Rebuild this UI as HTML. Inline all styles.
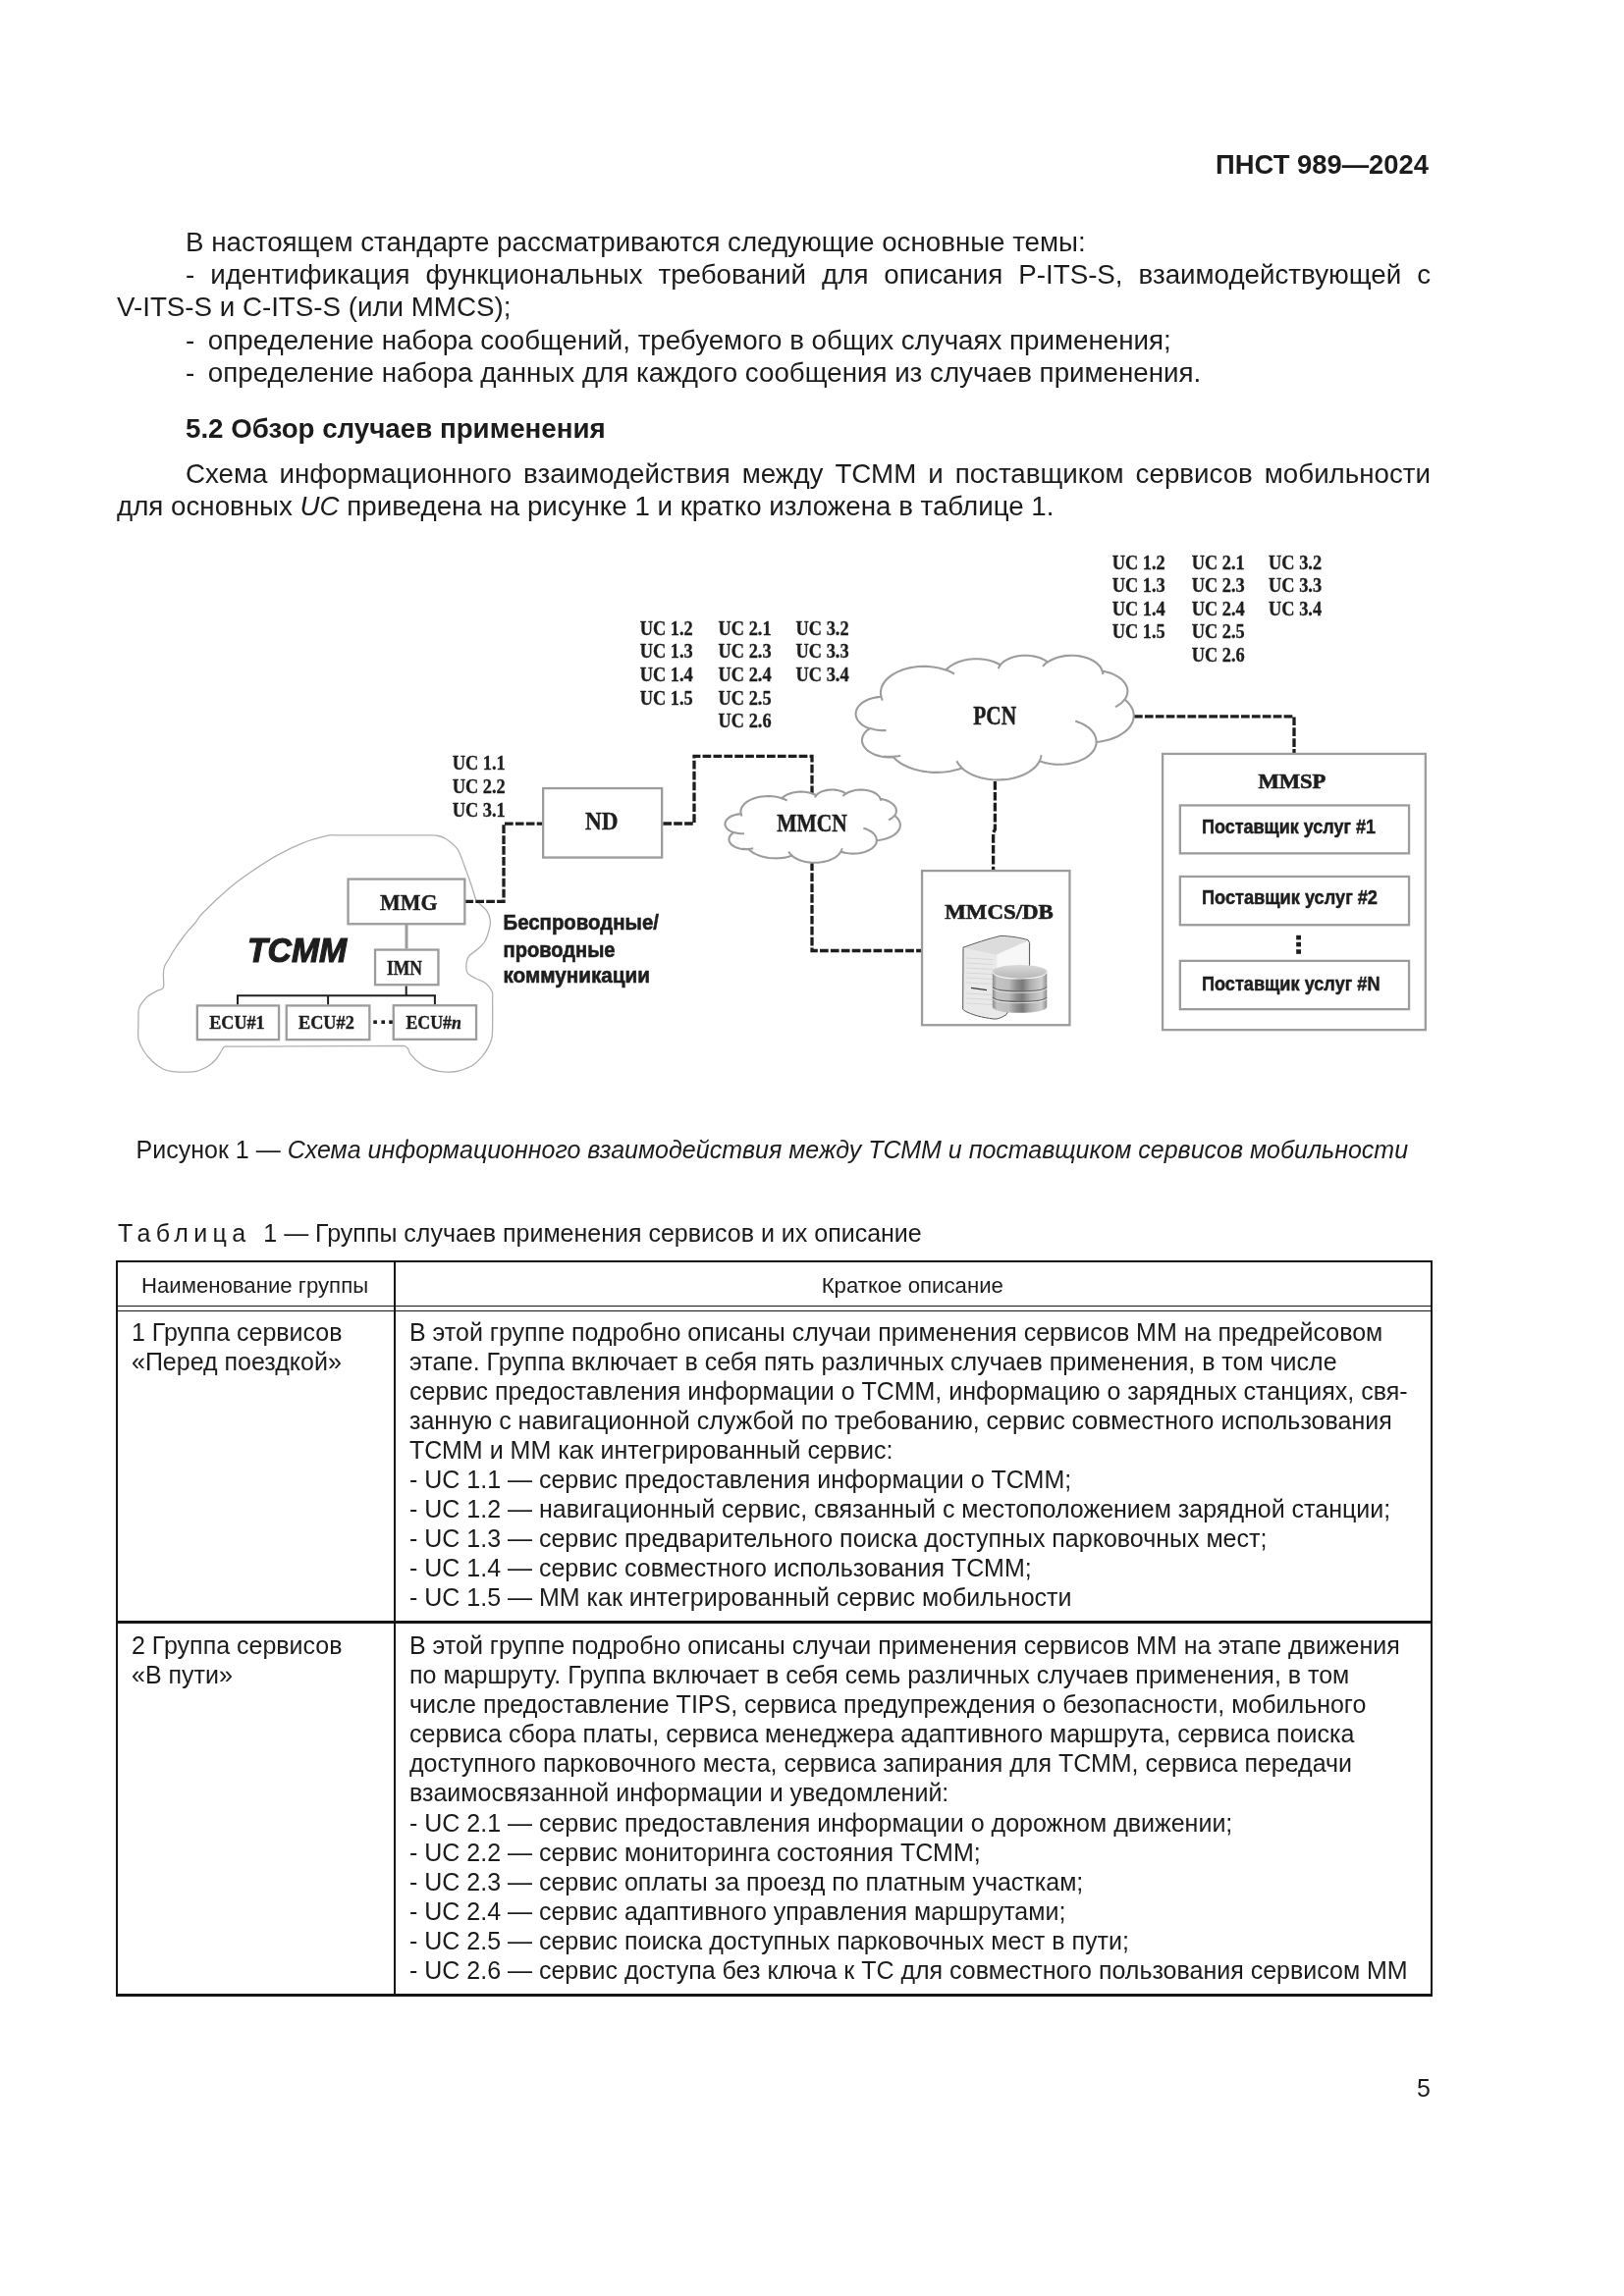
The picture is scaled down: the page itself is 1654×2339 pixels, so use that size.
<!DOCTYPE html>
<html><head><meta charset="utf-8"><title>ПНСТ 989—2024</title>
<style>
html,body{margin:0;padding:0;background:#fff;}
body{width:1654px;height:2339px;position:relative;overflow:hidden;font-family:'Liberation Sans', sans-serif;color:#1c1c1c;}
.t{position:absolute;line-height:1;white-space:nowrap;}
.r{position:absolute;}
svg.d{position:absolute;left:0;top:0;}
#wrap{position:absolute;left:0;top:0;width:1654px;height:2339px;will-change:transform;}
</style></head><body><div id="wrap">
<svg class="d" width="1654" height="2339" viewBox="0 0 1654 2339">
<defs>
<linearGradient id="cyl" x1="0" y1="0" x2="1" y2="0">
<stop offset="0" stop-color="#8a8a8a"/><stop offset="0.08" stop-color="#c4c4c4"/><stop offset="0.3" stop-color="#bdbdbd"/>
<stop offset="0.45" stop-color="#8c8c8c"/><stop offset="0.55" stop-color="#7a7a7a"/><stop offset="0.7" stop-color="#b0b0b0"/>
<stop offset="0.9" stop-color="#cfcfcf"/><stop offset="1" stop-color="#8f8f8f"/></linearGradient>
<linearGradient id="cyltop" x1="0" y1="0" x2="0" y2="1">
<stop offset="0" stop-color="#d9d9d9"/><stop offset="1" stop-color="#b8b8b8"/></linearGradient>
<linearGradient id="side" x1="0" y1="0" x2="1" y2="0">
<stop offset="0" stop-color="#eeeeee"/><stop offset="1" stop-color="#e2e2e2"/></linearGradient>
</defs>
<path d="M342.8,850.9 L435,850.9 C438.23,850.93 441.28,850.53 444.40,851.10 C447.52,851.67 450.12,851.97 453.70,854.30 C457.28,856.63 462.67,860.42 465.90,865.10 C469.13,869.78 470.70,876.17 473.10,882.40 C475.50,888.63 478.38,896.87 480.30,902.50 C482.22,908.13 483.40,913.32 484.60,916.20 C485.80,919.08 485.58,917.77 487.50,919.80 C489.42,921.83 494.12,925.28 496.10,928.40 C498.08,931.52 499.15,935.03 499.40,938.50 C499.65,941.97 498.62,945.62 497.60,949.20 C496.58,952.78 495.22,957.00 493.30,960.00 C491.38,963.00 488.75,964.80 486.10,967.20 C483.45,969.60 479.27,971.65 477.40,974.40 C475.53,977.15 475.07,980.82 474.90,983.70 C474.73,986.58 474.78,989.53 476.40,991.70 C478.02,993.87 481.55,995.03 484.60,996.70 C487.65,998.37 491.93,999.48 494.70,1001.70 C497.47,1003.92 500.05,1006.95 501.20,1010.00 C502.35,1013.05 501.53,1013.77 501.60,1020.00 C501.67,1026.23 501.72,1041.13 501.60,1047.40 C501.48,1053.67 501.58,1054.43 500.90,1057.60 C500.22,1060.77 499.08,1063.35 497.50,1066.40 C495.92,1069.45 494.10,1072.75 491.40,1075.90 C488.70,1079.05 485.25,1082.82 481.30,1085.30 C477.35,1087.78 471.65,1089.67 467.70,1090.80 C463.75,1091.93 460.98,1092.00 457.60,1092.10 C454.22,1092.20 451.35,1092.18 447.40,1091.40 C443.45,1090.62 437.85,1089.32 433.90,1087.40 C429.95,1085.48 426.42,1082.27 423.70,1079.90 C420.98,1077.53 418.95,1075.12 417.60,1073.20 C416.25,1071.28 416.62,1069.70 415.60,1068.40 C414.58,1067.10 413.85,1065.90 411.50,1065.40 L229.2,1066.2 C227.02,1066.75 227.47,1067.53 226.10,1069.50 C224.73,1071.47 223.18,1075.33 221.00,1078.00 C218.82,1080.67 215.83,1083.50 213.00,1085.50 C210.17,1087.50 206.73,1088.95 204.00,1090.00 C201.27,1091.05 200.93,1091.50 196.60,1091.80 C192.27,1092.10 183.10,1092.27 178.00,1091.80 C172.90,1091.33 169.83,1090.80 166.00,1089.00 C162.17,1087.20 158.33,1084.17 155.00,1081.00 C151.67,1077.83 148.33,1073.75 146.00,1070.00 C143.67,1066.25 141.85,1062.67 141.00,1058.50 C140.15,1054.33 140.87,1049.87 140.90,1045.00 C140.93,1040.13 140.75,1032.95 141.20,1029.30 C141.65,1025.65 142.07,1025.47 143.60,1023.10 C145.13,1020.73 147.73,1017.35 150.40,1015.10 C153.07,1012.85 157.23,1010.83 159.60,1009.60 C161.97,1008.37 163.42,1008.52 164.60,1007.70 C165.78,1006.88 166.40,1007.27 166.70,1004.70 C167.00,1002.13 166.25,995.70 166.40,992.30 C166.55,988.90 166.68,986.85 167.60,984.30 C168.52,981.75 170.15,979.97 171.90,977.00 C173.65,974.03 175.83,970.00 178.10,966.50 C180.37,963.00 183.13,959.18 185.50,956.00 C187.87,952.82 190.05,950.07 192.30,947.40 C194.55,944.73 196.58,942.95 199.00,940.00 C201.42,937.05 200.90,935.68 206.80,929.70 C212.70,923.72 226.52,910.83 234.40,904.10 C242.28,897.37 246.22,894.72 254.10,889.30 C261.98,883.88 272.67,876.68 281.70,871.60 C290.73,866.52 299.77,862.17 308.30,858.80 C316.83,855.43 327.15,852.72 332.90,851.40 C338.65,850.08 339.48,850.98 342.80,850.90 Z" fill="none" stroke="#b0b0b0" stroke-width="1.3"/>
<path d="M473.40,918.40 L513.00,918.40 L513.00,839.10 L552.30,839.10" fill="none" stroke="#1e1e1e" stroke-width="3.3" stroke-dasharray="8.7 2.2" stroke-linejoin="miter"/>
<path d="M675.30,839.00 L707.00,839.00 L707.00,770.30 L827.00,770.30 L827.00,808.00" fill="none" stroke="#1e1e1e" stroke-width="3.3" stroke-dasharray="8.7 2.2" stroke-linejoin="miter"/>
<path d="M827.00,878.40 L827.00,968.50 L938.60,968.50" fill="none" stroke="#1e1e1e" stroke-width="3.3" stroke-dasharray="8.7 2.2" stroke-linejoin="miter"/>
<path d="M1013.40,796.00 L1013.40,845.00 L1011.60,848.00 L1011.60,886.00" fill="none" stroke="#1e1e1e" stroke-width="3.3" stroke-dasharray="8.7 2.2" stroke-linejoin="miter"/>
<path d="M1155.00,729.90 L1318.00,729.90 L1318.00,767.00" fill="none" stroke="#1e1e1e" stroke-width="3.3" stroke-dasharray="8.7 2.2" stroke-linejoin="miter"/>
<rect x="354.55" y="895.55" width="118.80" height="45.70" fill="#fff" stroke="#9c9c9c" stroke-width="2.3"/>
<line x1="414" y1="942" x2="414" y2="966.5" stroke="#9c9c9c" stroke-width="3"/>
<rect x="382.05" y="967.55" width="64.40" height="35.70" fill="#fff" stroke="#9c9c9c" stroke-width="2.3"/>
<path d="M413.7,1004.4 V1014.3 M241,1014.3 H444 M242,1014.3 V1023.5 M334.1,1014.3 V1023.5 M442.9,1014.3 V1023.5" fill="none" stroke="#1e1e1e" stroke-width="2"/>
<rect x="200.85" y="1024.45" width="83.20" height="34.70" fill="#fff" stroke="#9c9c9c" stroke-width="2.3"/>
<rect x="291.75" y="1024.45" width="84.60" height="34.70" fill="#fff" stroke="#9c9c9c" stroke-width="2.3"/>
<rect x="400.75" y="1024.25" width="84.30" height="34.60" fill="#fff" stroke="#9c9c9c" stroke-width="2.3"/>
<rect x="380.3" y="1039.4" width="3.6" height="3.6" fill="#1e1e1e"/>
<rect x="388.4" y="1039.4" width="3.6" height="3.6" fill="#1e1e1e"/>
<rect x="396.2" y="1039.4" width="3.6" height="3.6" fill="#1e1e1e"/>
<text x="387.0" y="926.6" font-family="'Liberation Serif', serif" font-size="23" font-weight="bold" fill="#1e1e1e" textLength="58.5" lengthAdjust="spacingAndGlyphs" stroke="#1e1e1e" stroke-width="0.4">MMG</text>
<text x="394.0" y="992.7" font-family="'Liberation Serif', serif" font-size="20.6" font-weight="bold" fill="#1e1e1e" textLength="36" lengthAdjust="spacingAndGlyphs" stroke="#1e1e1e" stroke-width="0.4">IMN</text>
<text x="213.2" y="1048.3" font-family="'Liberation Serif', serif" font-size="18.6" font-weight="bold" fill="#1e1e1e" textLength="56.5" lengthAdjust="spacingAndGlyphs" stroke="#1e1e1e" stroke-width="0.4">ECU#1</text>
<text x="304.0" y="1048.3" font-family="'Liberation Serif', serif" font-size="18.6" font-weight="bold" fill="#1e1e1e" textLength="56.8" lengthAdjust="spacingAndGlyphs" stroke="#1e1e1e" stroke-width="0.4">ECU#2</text>
<text x="413.4" y="1048.3" font-family="'Liberation Serif', serif" font-size="18.6" font-weight="bold" fill="#1e1e1e" textLength="56.5" lengthAdjust="spacingAndGlyphs" stroke="#1e1e1e" stroke-width="0.4">ECU#<tspan font-style="italic">n</tspan></text>
<text x="252.0" y="980.2" font-family="'Liberation Sans', sans-serif" font-size="35.5" font-weight="bold" font-style="italic" fill="#1e1e1e" textLength="101" lengthAdjust="spacingAndGlyphs" stroke="#1e1e1e" stroke-width="1.2">ТСММ</text>
<text x="512.5" y="947" font-family="'Liberation Sans', sans-serif" font-size="22" font-weight="bold" fill="#1e1e1e" textLength="158.5" lengthAdjust="spacingAndGlyphs" stroke="#1e1e1e" stroke-width="0.6">Беспроводные/</text>
<text x="512.5" y="974.7" font-family="'Liberation Sans', sans-serif" font-size="22" font-weight="bold" fill="#1e1e1e" textLength="114" lengthAdjust="spacingAndGlyphs" stroke="#1e1e1e" stroke-width="0.6">проводные</text>
<text x="512.5" y="1000.5" font-family="'Liberation Sans', sans-serif" font-size="22" font-weight="bold" fill="#1e1e1e" textLength="149.5" lengthAdjust="spacingAndGlyphs" stroke="#1e1e1e" stroke-width="0.6">коммуникации</text>
<text x="460.8" y="784.1" font-family="'Liberation Serif', serif" font-size="20.3" font-weight="bold" fill="#1e1e1e" textLength="54" lengthAdjust="spacingAndGlyphs" stroke="#1e1e1e" stroke-width="0.35">UC 1.1</text>
<text x="460.8" y="808.3" font-family="'Liberation Serif', serif" font-size="20.3" font-weight="bold" fill="#1e1e1e" textLength="54" lengthAdjust="spacingAndGlyphs" stroke="#1e1e1e" stroke-width="0.35">UC 2.2</text>
<text x="460.8" y="831.6" font-family="'Liberation Serif', serif" font-size="20.3" font-weight="bold" fill="#1e1e1e" textLength="54" lengthAdjust="spacingAndGlyphs" stroke="#1e1e1e" stroke-width="0.35">UC 3.1</text>
<rect x="553.15" y="803.05" width="121.00" height="70.50" fill="#fff" stroke="#9c9c9c" stroke-width="2.3"/>
<text x="596.0" y="845.3" font-family="'Liberation Serif', serif" font-size="25" font-weight="bold" fill="#1e1e1e" textLength="33.5" lengthAdjust="spacingAndGlyphs" stroke="#1e1e1e" stroke-width="0.4">ND</text>
<text x="651.8" y="646.6" font-family="'Liberation Serif', serif" font-size="20.3" font-weight="bold" fill="#1e1e1e" textLength="54" lengthAdjust="spacingAndGlyphs" stroke="#1e1e1e" stroke-width="0.35">UC 1.2</text>
<text x="651.8" y="670.25" font-family="'Liberation Serif', serif" font-size="20.3" font-weight="bold" fill="#1e1e1e" textLength="54" lengthAdjust="spacingAndGlyphs" stroke="#1e1e1e" stroke-width="0.35">UC 1.3</text>
<text x="651.8" y="693.9" font-family="'Liberation Serif', serif" font-size="20.3" font-weight="bold" fill="#1e1e1e" textLength="54" lengthAdjust="spacingAndGlyphs" stroke="#1e1e1e" stroke-width="0.35">UC 1.4</text>
<text x="651.8" y="717.55" font-family="'Liberation Serif', serif" font-size="20.3" font-weight="bold" fill="#1e1e1e" textLength="54" lengthAdjust="spacingAndGlyphs" stroke="#1e1e1e" stroke-width="0.35">UC 1.5</text>
<text x="731.6" y="646.6" font-family="'Liberation Serif', serif" font-size="20.3" font-weight="bold" fill="#1e1e1e" textLength="54" lengthAdjust="spacingAndGlyphs" stroke="#1e1e1e" stroke-width="0.35">UC 2.1</text>
<text x="731.6" y="670.25" font-family="'Liberation Serif', serif" font-size="20.3" font-weight="bold" fill="#1e1e1e" textLength="54" lengthAdjust="spacingAndGlyphs" stroke="#1e1e1e" stroke-width="0.35">UC 2.3</text>
<text x="731.6" y="693.9" font-family="'Liberation Serif', serif" font-size="20.3" font-weight="bold" fill="#1e1e1e" textLength="54" lengthAdjust="spacingAndGlyphs" stroke="#1e1e1e" stroke-width="0.35">UC 2.4</text>
<text x="731.6" y="717.55" font-family="'Liberation Serif', serif" font-size="20.3" font-weight="bold" fill="#1e1e1e" textLength="54" lengthAdjust="spacingAndGlyphs" stroke="#1e1e1e" stroke-width="0.35">UC 2.5</text>
<text x="731.6" y="741.2" font-family="'Liberation Serif', serif" font-size="20.3" font-weight="bold" fill="#1e1e1e" textLength="54" lengthAdjust="spacingAndGlyphs" stroke="#1e1e1e" stroke-width="0.35">UC 2.6</text>
<text x="810.6" y="646.6" font-family="'Liberation Serif', serif" font-size="20.3" font-weight="bold" fill="#1e1e1e" textLength="54" lengthAdjust="spacingAndGlyphs" stroke="#1e1e1e" stroke-width="0.35">UC 3.2</text>
<text x="810.6" y="670.25" font-family="'Liberation Serif', serif" font-size="20.3" font-weight="bold" fill="#1e1e1e" textLength="54" lengthAdjust="spacingAndGlyphs" stroke="#1e1e1e" stroke-width="0.35">UC 3.3</text>
<text x="810.6" y="693.9" font-family="'Liberation Serif', serif" font-size="20.3" font-weight="bold" fill="#1e1e1e" textLength="54" lengthAdjust="spacingAndGlyphs" stroke="#1e1e1e" stroke-width="0.35">UC 3.4</text>
<text x="1132.8" y="579.6" font-family="'Liberation Serif', serif" font-size="20.3" font-weight="bold" fill="#1e1e1e" textLength="54" lengthAdjust="spacingAndGlyphs" stroke="#1e1e1e" stroke-width="0.35">UC 1.2</text>
<text x="1132.8" y="603.23" font-family="'Liberation Serif', serif" font-size="20.3" font-weight="bold" fill="#1e1e1e" textLength="54" lengthAdjust="spacingAndGlyphs" stroke="#1e1e1e" stroke-width="0.35">UC 1.3</text>
<text x="1132.8" y="626.86" font-family="'Liberation Serif', serif" font-size="20.3" font-weight="bold" fill="#1e1e1e" textLength="54" lengthAdjust="spacingAndGlyphs" stroke="#1e1e1e" stroke-width="0.35">UC 1.4</text>
<text x="1132.8" y="650.49" font-family="'Liberation Serif', serif" font-size="20.3" font-weight="bold" fill="#1e1e1e" textLength="54" lengthAdjust="spacingAndGlyphs" stroke="#1e1e1e" stroke-width="0.35">UC 1.5</text>
<text x="1213.7" y="579.6" font-family="'Liberation Serif', serif" font-size="20.3" font-weight="bold" fill="#1e1e1e" textLength="54" lengthAdjust="spacingAndGlyphs" stroke="#1e1e1e" stroke-width="0.35">UC 2.1</text>
<text x="1213.7" y="603.23" font-family="'Liberation Serif', serif" font-size="20.3" font-weight="bold" fill="#1e1e1e" textLength="54" lengthAdjust="spacingAndGlyphs" stroke="#1e1e1e" stroke-width="0.35">UC 2.3</text>
<text x="1213.7" y="626.86" font-family="'Liberation Serif', serif" font-size="20.3" font-weight="bold" fill="#1e1e1e" textLength="54" lengthAdjust="spacingAndGlyphs" stroke="#1e1e1e" stroke-width="0.35">UC 2.4</text>
<text x="1213.7" y="650.49" font-family="'Liberation Serif', serif" font-size="20.3" font-weight="bold" fill="#1e1e1e" textLength="54" lengthAdjust="spacingAndGlyphs" stroke="#1e1e1e" stroke-width="0.35">UC 2.5</text>
<text x="1213.7" y="674.12" font-family="'Liberation Serif', serif" font-size="20.3" font-weight="bold" fill="#1e1e1e" textLength="54" lengthAdjust="spacingAndGlyphs" stroke="#1e1e1e" stroke-width="0.35">UC 2.6</text>
<text x="1292.1" y="579.6" font-family="'Liberation Serif', serif" font-size="20.3" font-weight="bold" fill="#1e1e1e" textLength="54" lengthAdjust="spacingAndGlyphs" stroke="#1e1e1e" stroke-width="0.35">UC 3.2</text>
<text x="1292.1" y="603.23" font-family="'Liberation Serif', serif" font-size="20.3" font-weight="bold" fill="#1e1e1e" textLength="54" lengthAdjust="spacingAndGlyphs" stroke="#1e1e1e" stroke-width="0.35">UC 3.3</text>
<text x="1292.1" y="626.86" font-family="'Liberation Serif', serif" font-size="20.3" font-weight="bold" fill="#1e1e1e" textLength="54" lengthAdjust="spacingAndGlyphs" stroke="#1e1e1e" stroke-width="0.35">UC 3.4</text>
<path d="M754.69,828.98 L754.46,827.52 754.47,826.05 754.72,824.58 755.22,823.14 755.94,821.73 756.90,820.36 758.07,819.05 759.46,817.81 761.04,816.65 762.81,815.57 764.75,814.59 766.84,813.72 769.06,812.96 771.40,812.33 773.83,811.81 776.34,811.43 778.89,811.19 781.48,811.08 784.08,811.10 786.65,811.26 789.19,811.56 791.67,811.99 794.07,812.55 796.37,813.24 L797.23,812.40 798.20,811.60 799.27,810.85 800.45,810.15 801.71,809.50 803.06,808.91 804.49,808.38 805.98,807.92 807.54,807.52 809.14,807.19 810.78,806.94 812.46,806.75 814.15,806.64 815.85,806.61 817.56,806.65 819.25,806.76 820.92,806.95 822.56,807.21 824.16,807.55 825.71,807.95 827.20,808.42 828.63,808.95 829.97,809.54 831.23,810.19 L831.97,809.44 832.81,808.72 833.76,808.05 834.81,807.42 835.94,806.85 837.16,806.33 838.45,805.88 839.80,805.48 841.21,805.15 842.66,804.89 844.14,804.70 845.65,804.59 847.16,804.54 848.68,804.57 850.19,804.67 851.68,804.84 853.14,805.09 854.56,805.40 855.93,805.78 857.23,806.22 858.47,806.72 859.62,807.28 860.69,807.90 861.66,808.56 L862.95,807.78 864.36,807.07 865.88,806.44 867.50,805.90 869.20,805.44 870.97,805.07 872.80,804.80 874.66,804.63 876.54,804.56 878.43,804.59 880.30,804.72 882.14,804.95 883.94,805.27 885.67,805.69 887.33,806.20 888.90,806.79 890.35,807.47 891.70,808.22 892.90,809.04 893.97,809.92 894.89,810.85 895.65,811.83 896.24,812.84 896.66,813.88 L898.16,814.14 899.62,814.47 901.03,814.85 902.40,815.29 903.70,815.78 904.94,816.32 906.11,816.92 907.20,817.55 908.21,818.24 909.13,818.96 909.96,819.71 910.69,820.50 911.32,821.31 911.85,822.15 912.27,823.01 912.58,823.88 912.78,824.76 912.88,825.65 912.85,826.54 912.72,827.43 912.48,828.31 912.13,829.17 911.67,830.02 911.10,830.85 L912.49,831.98 913.71,833.17 914.74,834.41 915.57,835.70 916.21,837.03 916.63,838.38 916.85,839.75 916.86,841.13 916.66,842.50 916.25,843.85 915.63,845.18 914.82,846.48 913.81,847.72 912.61,848.92 911.23,850.05 909.68,851.11 907.98,852.09 906.14,852.98 904.16,853.78 902.07,854.48 899.88,855.07 897.61,855.55 895.28,855.92 892.89,856.18 L892.78,857.37 892.49,858.55 892.01,859.71 891.35,860.85 890.52,861.94 889.52,862.99 888.36,863.99 887.05,864.93 885.60,865.79 884.02,866.58 882.32,867.29 880.52,867.91 878.63,868.44 876.66,868.87 874.64,869.20 872.57,869.43 870.47,869.56 868.37,869.58 866.26,869.49 864.18,869.30 862.14,869.00 860.15,868.61 858.23,868.12 856.39,867.53 L855.52,868.93 854.41,870.28 853.09,871.57 851.56,872.78 849.84,873.90 847.94,874.92 845.88,875.84 843.67,876.65 841.35,877.33 838.92,877.89 836.40,878.31 833.83,878.60 831.23,878.75 828.61,878.76 826.00,878.63 823.42,878.36 820.90,877.95 818.46,877.42 816.11,876.75 813.89,875.96 811.81,875.06 809.89,874.05 808.14,872.94 806.58,871.74 L804.74,872.32 802.83,872.84 800.86,873.28 798.85,873.64 796.80,873.93 794.72,874.14 792.63,874.27 790.52,874.33 788.40,874.30 786.30,874.19 784.22,874.01 782.16,873.74 780.13,873.40 778.15,872.99 776.22,872.50 774.36,871.94 772.56,871.30 770.84,870.61 769.21,869.85 767.66,869.03 766.22,868.15 764.88,867.22 763.66,866.24 762.55,865.22 L760.72,865.29 758.90,865.25 757.08,865.11 755.31,864.87 753.59,864.52 751.93,864.08 750.37,863.55 748.91,862.92 747.57,862.22 746.36,861.45 745.30,860.61 744.39,859.71 743.65,858.77 743.09,857.78 742.70,856.77 742.50,855.75 742.48,854.71 742.65,853.69 743.00,852.67 743.53,851.68 744.23,850.73 745.11,849.82 746.14,848.97 747.32,848.18 L745.75,847.59 744.31,846.92 742.99,846.16 741.82,845.33 740.81,844.43 739.96,843.48 739.30,842.48 738.83,841.45 738.54,840.39 738.45,839.32 738.56,838.26 738.86,837.21 739.35,836.18 740.03,835.18 740.89,834.23 741.91,833.34 743.09,832.51 744.42,831.76 745.88,831.09 747.46,830.51 749.13,830.03 750.88,829.65 752.69,829.38 754.54,829.21 Z" fill="#fff" stroke="#9c9c9c" stroke-width="2.1"/>
<path d="M757.96,849.26 L757.05,849.29 756.15,849.29 755.24,849.26 754.34,849.21 753.44,849.14 752.55,849.03 751.67,848.90 750.81,848.75 749.95,848.57 749.12,848.37 748.30,848.14 747.51,847.89 M767.18,864.24 L766.32,864.42 765.45,864.58 764.56,864.71 763.67,864.81 762.76,864.89 761.85,864.94 760.94,864.96 760.03,864.96 759.12,864.94 758.21,864.88 757.30,864.80 756.41,864.70 M806.57,871.44 L806.23,871.14 805.89,870.83 805.57,870.52 805.26,870.21 804.96,869.89 804.68,869.57 804.41,869.24 804.15,868.91 803.91,868.58 803.68,868.25 803.46,867.91 803.26,867.57 M857.51,863.99 L857.47,864.27 857.41,864.54 857.35,864.82 857.28,865.09 857.20,865.37 857.11,865.64 857.02,865.92 856.91,866.19 856.80,866.46 856.68,866.73 856.55,867.00 856.41,867.27 M879.38,843.73 L881.35,844.33 883.20,845.04 884.93,845.85 886.52,846.74 887.95,847.71 889.22,848.76 890.30,849.86 891.20,851.02 891.91,852.23 892.41,853.46 892.71,854.72 892.79,855.98 M911.02,830.67 L910.67,831.11 910.29,831.54 909.88,831.96 909.45,832.37 908.99,832.77 908.50,833.17 907.98,833.55 907.44,833.92 906.88,834.27 906.29,834.62 905.68,834.95 905.04,835.27 M896.69,813.62 L896.74,813.80 896.79,813.98 896.83,814.16 896.87,814.34 896.91,814.52 896.94,814.70 896.96,814.88 896.98,815.06 896.99,815.24 897.00,815.43 897.00,815.61 897.00,815.79 M858.55,811.09 L858.75,810.84 858.96,810.59 859.18,810.35 859.41,810.11 859.65,809.87 859.90,809.64 860.16,809.41 860.43,809.19 860.71,808.96 861.00,808.74 861.30,808.53 861.61,808.32 M829.93,812.41 L830.01,812.20 830.11,812.00 830.20,811.79 830.31,811.59 830.42,811.39 830.54,811.19 830.67,810.99 830.80,810.79 830.95,810.60 831.09,810.40 831.25,810.21 831.41,810.02 M796.35,813.22 L796.83,813.38 797.31,813.55 797.78,813.73 798.25,813.91 798.70,814.09 799.16,814.28 799.60,814.48 800.04,814.68 800.47,814.89 800.89,815.10 801.30,815.31 801.71,815.53 M755.62,831.42 L755.52,831.22 755.42,831.02 755.33,830.82 755.24,830.62 755.15,830.41 755.07,830.21 755.00,830.01 754.92,829.80 754.86,829.60 754.80,829.39 754.74,829.19 754.69,828.98" fill="none" stroke="#9c9c9c" stroke-width="2.1"/>
<path d="M897.33,709.45 L896.97,706.95 896.98,704.43 897.39,701.94 898.17,699.47 899.32,697.06 900.84,694.73 902.70,692.49 904.90,690.37 907.42,688.38 910.22,686.54 913.30,684.87 916.61,683.39 920.14,682.09 923.85,681.00 927.71,680.13 931.69,679.48 935.75,679.06 939.85,678.87 943.97,678.91 948.06,679.19 952.09,679.70 956.03,680.44 959.84,681.39 963.48,682.56 L964.84,681.13 966.38,679.77 968.08,678.49 969.95,677.29 971.96,676.19 974.10,675.18 976.36,674.27 978.74,673.48 981.20,672.80 983.75,672.24 986.35,671.80 989.01,671.49 991.70,671.30 994.40,671.24 997.10,671.31 999.79,671.51 1002.44,671.83 1005.05,672.27 1007.59,672.84 1010.05,673.53 1012.41,674.33 1014.67,675.24 1016.80,676.25 1018.80,677.37 L1019.97,676.08 1021.31,674.85 1022.82,673.70 1024.48,672.63 1026.28,671.65 1028.21,670.77 1030.26,669.99 1032.40,669.32 1034.63,668.76 1036.94,668.31 1039.29,667.99 1041.68,667.79 1044.09,667.71 1046.50,667.76 1048.90,667.93 1051.26,668.23 1053.58,668.64 1055.83,669.18 1058.00,669.82 1060.07,670.58 1062.03,671.44 1063.86,672.40 1065.55,673.44 1067.10,674.58 L1069.14,673.24 1071.37,672.03 1073.79,670.96 1076.36,670.03 1079.06,669.24 1081.87,668.62 1084.77,668.16 1087.72,667.87 1090.71,667.74 1093.70,667.79 1096.67,668.01 1099.60,668.40 1102.45,668.96 1105.20,669.67 1107.83,670.54 1110.32,671.56 1112.63,672.71 1114.76,673.99 1116.68,675.39 1118.37,676.89 1119.83,678.48 1121.03,680.15 1121.97,681.88 1122.64,683.65 L1125.02,684.10 1127.33,684.66 1129.58,685.31 1131.74,686.06 1133.81,686.90 1135.78,687.83 1137.64,688.84 1139.37,689.93 1140.97,691.09 1142.43,692.32 1143.75,693.61 1144.91,694.96 1145.91,696.35 1146.74,697.78 1147.41,699.24 1147.91,700.73 1148.23,702.24 1148.37,703.76 1148.34,705.28 1148.13,706.79 1147.74,708.29 1147.18,709.77 1146.45,711.22 1145.56,712.64 L1147.77,714.56 1149.69,716.59 1151.33,718.72 1152.65,720.92 1153.66,723.19 1154.34,725.50 1154.68,727.84 1154.70,730.18 1154.38,732.52 1153.73,734.84 1152.75,737.11 1151.45,739.32 1149.85,741.45 1147.95,743.49 1145.76,745.42 1143.31,747.23 1140.61,748.90 1137.68,750.43 1134.54,751.79 1131.23,752.98 1127.75,753.99 1124.15,754.82 1120.44,755.45 1116.66,755.88 L1116.49,757.92 1116.02,759.94 1115.26,761.92 1114.21,763.86 1112.89,765.73 1111.31,767.52 1109.47,769.23 1107.39,770.82 1105.08,772.30 1102.58,773.65 1099.88,774.86 1097.02,775.92 1094.02,776.82 1090.90,777.56 1087.69,778.12 1084.41,778.51 1081.08,778.73 1077.74,778.76 1074.40,778.61 1071.10,778.29 1067.85,777.79 1064.70,777.11 1061.65,776.27 1058.74,775.27 L1057.35,777.66 1055.59,779.97 1053.49,782.16 1051.07,784.23 1048.33,786.14 1045.32,787.89 1042.05,789.46 1038.55,790.84 1034.85,792.00 1031.00,792.95 1027.01,793.68 1022.93,794.17 1018.80,794.42 1014.64,794.44 1010.50,794.22 1006.41,793.76 1002.41,793.07 998.53,792.15 994.81,791.01 991.29,789.66 987.98,788.12 984.93,786.40 982.16,784.50 979.69,782.46 L976.76,783.45 973.73,784.33 970.61,785.08 967.42,785.71 964.17,786.20 960.87,786.56 957.54,786.78 954.19,786.87 950.84,786.83 947.50,786.65 944.19,786.33 940.92,785.88 937.71,785.30 934.56,784.59 931.51,783.75 928.54,782.79 925.69,781.71 922.96,780.52 920.37,779.23 917.92,777.83 915.63,776.33 913.51,774.74 911.56,773.07 909.80,771.33 L906.91,771.45 904.01,771.38 901.13,771.14 898.32,770.72 895.58,770.13 892.96,769.38 890.48,768.47 888.16,767.40 886.04,766.21 884.12,764.88 882.43,763.45 881.00,761.91 879.82,760.30 878.92,758.62 878.31,756.90 877.98,755.15 877.96,753.38 878.22,751.63 878.78,749.90 879.62,748.21 880.74,746.58 882.13,745.03 883.76,743.58 885.64,742.23 L883.15,741.23 880.85,740.07 878.76,738.78 876.91,737.36 875.30,735.82 873.97,734.19 872.91,732.49 872.16,730.73 871.71,728.93 871.57,727.11 871.73,725.29 872.21,723.49 872.99,721.73 874.07,720.03 875.43,718.41 877.05,716.89 878.93,715.48 881.04,714.19 883.36,713.05 885.85,712.06 888.51,711.24 891.28,710.59 894.16,710.12 897.09,709.84 Z" fill="#fff" stroke="#9c9c9c" stroke-width="2.1"/>
<path d="M902.52,744.07 L901.08,744.12 899.64,744.12 898.21,744.08 896.77,743.99 895.35,743.86 893.94,743.68 892.54,743.46 891.17,743.20 889.82,742.90 888.49,742.55 887.20,742.16 885.94,741.74 M917.15,769.65 L915.79,769.96 914.41,770.22 913.00,770.44 911.58,770.62 910.15,770.75 908.71,770.84 907.26,770.89 905.81,770.89 904.36,770.84 902.91,770.75 901.48,770.61 900.06,770.43 M979.67,781.95 L979.12,781.43 978.59,780.91 978.08,780.38 977.59,779.84 977.12,779.30 976.67,778.75 976.24,778.19 975.83,777.63 975.44,777.06 975.08,776.49 974.73,775.91 974.41,775.33 M1060.51,769.22 L1060.44,769.69 1060.35,770.17 1060.26,770.64 1060.14,771.11 1060.02,771.58 1059.88,772.05 1059.73,772.51 1059.56,772.98 1059.38,773.44 1059.19,773.90 1058.98,774.36 1058.76,774.82 M1095.22,734.62 L1098.33,735.66 1101.28,736.87 1104.02,738.24 1106.54,739.77 1108.82,741.43 1110.83,743.21 1112.55,745.10 1113.98,747.08 1115.10,749.13 1115.90,751.24 1116.37,753.39 1116.50,755.55 M1145.42,712.33 L1144.87,713.08 1144.27,713.81 1143.63,714.53 1142.94,715.23 1142.20,715.92 1141.43,716.59 1140.61,717.24 1139.75,717.87 1138.86,718.48 1137.92,719.07 1136.95,719.64 1135.94,720.18 M1122.68,683.21 L1122.77,683.52 1122.85,683.83 1122.92,684.13 1122.98,684.44 1123.03,684.75 1123.08,685.06 1123.11,685.37 1123.14,685.68 1123.17,685.99 1123.18,686.30 1123.18,686.61 1123.18,686.92 M1062.15,678.89 L1062.47,678.47 1062.80,678.05 1063.15,677.63 1063.52,677.22 1063.90,676.82 1064.30,676.42 1064.71,676.03 1065.14,675.64 1065.59,675.26 1066.05,674.89 1066.52,674.52 1067.01,674.16 M1016.74,681.14 L1016.87,680.79 1017.02,680.44 1017.17,680.09 1017.34,679.75 1017.52,679.40 1017.71,679.06 1017.91,678.72 1018.13,678.38 1018.35,678.05 1018.59,677.72 1018.83,677.39 1019.09,677.07 M963.45,682.53 L964.21,682.81 964.97,683.10 965.72,683.40 966.46,683.70 967.18,684.02 967.90,684.35 968.61,684.68 969.30,685.03 969.98,685.38 970.65,685.74 971.31,686.11 971.96,686.48 M898.82,713.61 L898.65,713.27 898.49,712.92 898.34,712.58 898.20,712.24 898.07,711.89 897.94,711.54 897.82,711.20 897.71,710.85 897.60,710.50 897.50,710.15 897.41,709.80 897.33,709.45" fill="none" stroke="#9c9c9c" stroke-width="2.1"/>
<text x="791.2" y="847.4" font-family="'Liberation Serif', serif" font-size="26" font-weight="bold" fill="#1e1e1e" textLength="71.5" lengthAdjust="spacingAndGlyphs" stroke="#1e1e1e" stroke-width="0.5">MMCN</text>
<text x="991.2" y="737.8" font-family="'Liberation Serif', serif" font-size="26.5" font-weight="bold" fill="#1e1e1e" textLength="44" lengthAdjust="spacingAndGlyphs" stroke="#1e1e1e" stroke-width="0.5">PCN</text>
<rect x="939.05" y="887.05" width="150.40" height="157.20" fill="#fff" stroke="#9c9c9c" stroke-width="2.3"/>
<text x="962.3" y="935.8" font-family="'Liberation Serif', serif" font-size="21.7" font-weight="bold" fill="#1e1e1e" textLength="110.5" lengthAdjust="spacingAndGlyphs" stroke="#1e1e1e" stroke-width="0.6">MMCS/DB</text>
<g>
<path d="M981.0,965.2 C993,961 1006,956.5 1019.1,953.4 C1029,953.6 1040,955.5 1047.0,957.6 L1048.6,960.5 L1048.6,990 L1025,1033.5 C1020,1037 1015,1038.5 1012,1038 C1000,1036.5 990,1034 982,1029.5 L980.7,1028 Z" fill="#e9e9e9" stroke="#555" stroke-width="1"/>
<path d="M982.5,966 C994,962 1006,957.5 1019.1,954.6 C1029,954.8 1039,956.6 1046,958.6 C1036,963 1025,968 1015.3,972.5 C1004,970.5 993,968 982.5,966 Z" fill="#dcdcdc"/>
<path d="M1015.3,972.5 C1025,968 1036,963 1047.2,959 L1047.4,990 L1015.3,1010 Z" fill="#f7f7f7"/>
<line x1="984" y1="976" x2="1011" y2="977.5" stroke="#d2d2d2" stroke-width="0.8"/>
<line x1="984" y1="981" x2="1011" y2="982.5" stroke="#d2d2d2" stroke-width="0.8"/>
<line x1="984" y1="986" x2="1011" y2="987.5" stroke="#d2d2d2" stroke-width="0.8"/>
<line x1="984" y1="991" x2="1011" y2="992.5" stroke="#d2d2d2" stroke-width="0.8"/>
<line x1="984" y1="996" x2="1011" y2="997.5" stroke="#d2d2d2" stroke-width="0.8"/>
<line x1="984" y1="1001" x2="1011" y2="1002.5" stroke="#d2d2d2" stroke-width="0.8"/>
<line x1="984" y1="1012" x2="1011" y2="1013.5" stroke="#d2d2d2" stroke-width="0.8"/>
<line x1="984" y1="1017" x2="1011" y2="1018.5" stroke="#d2d2d2" stroke-width="0.8"/>
<line x1="984" y1="1022" x2="1011" y2="1023.5" stroke="#d2d2d2" stroke-width="0.8"/>
<line x1="989" y1="1006.3" x2="1005" y2="1008.7" stroke="#333" stroke-width="1.2"/>
<path d="M1010.8,989.6 L1010.8,1025.5 C1010.8,1029.5 1023,1031.8 1038.5,1031.8 C1054,1031.8 1066.3,1029.5 1066.3,1025.5 L1066.3,989.6 Z" fill="url(#cyl)"/>
<ellipse cx="1038.5" cy="989.6" rx="27.8" ry="6.6" fill="url(#cyltop)"/>
<path d="M1011,990 C1012,995 1025,997 1038.5,997 C1052,997 1065,995 1066,990" fill="none" stroke="#f2f2f2" stroke-width="1.2"/>
<path d="M1011,1005.5 C1013,1008.5 1025,1009.8 1038.5,1009.8 C1052,1009.8 1064,1008.5 1066,1005.5" fill="none" stroke="#666" stroke-width="1.2"/>
<path d="M1011,1016 C1013,1019 1025,1020.3 1038.5,1020.3 C1052,1020.3 1064,1019 1066,1016" fill="none" stroke="#666" stroke-width="1.2"/>
<path d="M1011,1007 C1013,1010 1025,1011.2 1038.5,1011.2 C1052,1011.2 1064,1010 1066,1007" fill="none" stroke="#e6e6e6" stroke-width="0.9"/>
<path d="M1011,1017.5 C1013,1020.5 1025,1021.7 1038.5,1021.7 C1052,1021.7 1064,1020.5 1066,1017.5" fill="none" stroke="#e6e6e6" stroke-width="0.9"/>
</g>
<rect x="1184.05" y="767.95" width="267.80" height="281.20" fill="#fff" stroke="#9c9c9c" stroke-width="2.3"/>
<text x="1281.4" y="803" font-family="'Liberation Serif', serif" font-size="20.5" font-weight="bold" fill="#1e1e1e" textLength="69" lengthAdjust="spacingAndGlyphs" stroke="#1e1e1e" stroke-width="0.6">MMSP</text>
<rect x="1201.85" y="820.45" width="233.20" height="48.90" fill="#fff" stroke="#9c9c9c" stroke-width="2.3"/>
<text x="1224.0" y="848.5" font-family="'Liberation Sans', sans-serif" font-size="20" font-weight="bold" fill="#1e1e1e" textLength="177" lengthAdjust="spacingAndGlyphs" stroke="#1e1e1e" stroke-width="0.5">Поставщик услуг #1</text>
<rect x="1201.85" y="892.95" width="233.20" height="49.30" fill="#fff" stroke="#9c9c9c" stroke-width="2.3"/>
<text x="1224.0" y="920.5" font-family="'Liberation Sans', sans-serif" font-size="20" font-weight="bold" fill="#1e1e1e" textLength="179" lengthAdjust="spacingAndGlyphs" stroke="#1e1e1e" stroke-width="0.5">Поставщик услуг #2</text>
<rect x="1201.85" y="978.85" width="233.20" height="49.30" fill="#fff" stroke="#9c9c9c" stroke-width="2.3"/>
<text x="1224.0" y="1009.2" font-family="'Liberation Sans', sans-serif" font-size="20" font-weight="bold" fill="#1e1e1e" textLength="181.5" lengthAdjust="spacingAndGlyphs" stroke="#1e1e1e" stroke-width="0.5">Поставщик услуг #N</text>
<rect x="1320.2" y="952.8" width="4.8" height="4.6" fill="#1e1e1e"/>
<rect x="1320.2" y="959.8" width="4.8" height="4.6" fill="#1e1e1e"/>
<rect x="1320.2" y="967.2" width="4.8" height="4.6" fill="#1e1e1e"/>
</svg>
<div class="t" style="left:1238.00px;top:153.81px;font-size:27.4px;font-weight:bold;width:217.00px;text-align:right;left:auto;right:199px;width:auto;">ПНСТ 989—2024</div>
<div class="t" style="left:189.00px;top:232.74px;font-size:27.72px;">В настоящем стандарте рассматриваются следующие основные темы:</div>
<div class="t" style="left:189.00px;top:265.94px;font-size:27.72px;width:1268.00px;text-align:justify;text-align-last:justify;">- идентификация функциональных требований для описания P-ITS-S, взаимодействующей с</div>
<div class="t" style="left:119.00px;top:299.34px;font-size:27.72px;">V-ITS-S и C-ITS-S (или MMCS);</div>
<div class="t" style="left:189.00px;top:332.54px;font-size:27.72px;">-<span style="margin-left:13.6px">определение набора сообщений, требуемого в общих случаях применения;</span></div>
<div class="t" style="left:189.00px;top:365.54px;font-size:27.72px;">-<span style="margin-left:13.6px">определение набора данных для каждого сообщения из случаев применения.</span></div>
<div class="t" style="left:189.00px;top:422.54px;font-size:27.72px;font-weight:bold;">5.2 Обзор случаев применения</div>
<div class="t" style="left:189.00px;top:468.84px;font-size:27.72px;width:1268.00px;text-align:justify;text-align-last:justify;">Схема информационного взаимодействия между ТСММ и поставщиком сервисов мобильности</div>
<div class="t" style="left:119.00px;top:501.94px;font-size:27.72px;">для основных <i>UC</i> приведена на рисунке 1 и кратко изложена в таблице 1.</div>
<div class="t" style="left:138.60px;top:1158.64px;font-size:25px;">Рисунок 1 — <i>Схема информационного взаимодействия между ТСММ и поставщиком сервисов мобильности</i></div>
<div class="t" style="left:120.00px;top:1243.54px;font-size:25px;letter-spacing:5.35px;">Таблица</div>
<div class="t" style="left:268.30px;top:1243.54px;font-size:25px;">1 — Группы случаев применения сервисов и их описание</div>
<div class="r" style="left:118px;top:1284px;width:1341px;height:2px;background:#151515"></div>
<div class="r" style="left:118px;top:2031px;width:1341px;height:2.5px;background:#151515"></div>
<div class="r" style="left:118px;top:1284px;width:2px;height:749.5px;background:#151515"></div>
<div class="r" style="left:1456.5px;top:1284px;width:2.4px;height:749.5px;background:#151515"></div>
<div class="r" style="left:401.2px;top:1284px;width:1.9px;height:749.5px;background:#151515"></div>
<div class="r" style="left:118px;top:1330px;width:1341px;height:1.3px;background:#151515"></div>
<div class="r" style="left:118px;top:1335px;width:1341px;height:1.3px;background:#151515"></div>
<div class="r" style="left:118px;top:1651px;width:1341px;height:2.7px;background:#151515"></div>
<div class="t" style="left:119.00px;top:1298.61px;font-size:22.2px;width:281.00px;text-align:center;">Наименование группы</div>
<div class="t" style="left:402.50px;top:1298.61px;font-size:22.2px;width:1053.50px;text-align:center;">Краткое описание</div>
<div class="t" style="left:134.00px;top:1344.54px;font-size:25px;">1 Группа сервисов</div>
<div class="t" style="left:134.00px;top:1374.57px;font-size:25px;">«Перед поездкой»</div>
<div class="t" style="left:417.00px;top:1344.54px;font-size:25px;">В этой группе подробно описаны случаи применения сервисов ММ на предрейсовом</div>
<div class="t" style="left:417.00px;top:1374.57px;font-size:25px;">этапе. Группа включает в себя пять различных случаев применения, в том числе</div>
<div class="t" style="left:417.00px;top:1404.60px;font-size:25px;">сервис предоставления информации о ТСММ, информацию о зарядных станциях, свя-</div>
<div class="t" style="left:417.00px;top:1434.63px;font-size:25px;">занную с навигационной службой по требованию, сервис совместного использования</div>
<div class="t" style="left:417.00px;top:1464.66px;font-size:25px;">ТСММ и ММ как интегрированный сервис:</div>
<div class="t" style="left:417.00px;top:1494.69px;font-size:25px;">- UC 1.1 — сервис предоставления информации о ТСММ;</div>
<div class="t" style="left:417.00px;top:1524.72px;font-size:25px;">- UC 1.2 — навигационный сервис, связанный с местоположением зарядной станции;</div>
<div class="t" style="left:417.00px;top:1554.75px;font-size:25px;">- UC 1.3 — сервис предварительного поиска доступных парковочных мест;</div>
<div class="t" style="left:417.00px;top:1584.78px;font-size:25px;">- UC 1.4 — сервис совместного использования ТСММ;</div>
<div class="t" style="left:417.00px;top:1614.81px;font-size:25px;">- UC 1.5 — ММ как интегрированный сервис мобильности</div>
<div class="t" style="left:134.00px;top:1664.34px;font-size:25px;">2 Группа сервисов</div>
<div class="t" style="left:134.00px;top:1694.37px;font-size:25px;">«В пути»</div>
<div class="t" style="left:417.00px;top:1664.34px;font-size:25px;">В этой группе подробно описаны случаи применения сервисов ММ на этапе движения</div>
<div class="t" style="left:417.00px;top:1694.37px;font-size:25px;">по маршруту. Группа включает в себя семь различных случаев применения, в том</div>
<div class="t" style="left:417.00px;top:1724.40px;font-size:25px;">числе предоставление TIPS, сервиса предупреждения о безопасности, мобильного</div>
<div class="t" style="left:417.00px;top:1754.43px;font-size:25px;">сервиса сбора платы, сервиса менеджера адаптивного маршрута, сервиса поиска</div>
<div class="t" style="left:417.00px;top:1784.46px;font-size:25px;">доступного парковочного места, сервиса запирания для ТСММ, сервиса передачи</div>
<div class="t" style="left:417.00px;top:1814.49px;font-size:25px;">взаимосвязанной информации и уведомлений:</div>
<div class="t" style="left:417.00px;top:1844.52px;font-size:25px;">- UC 2.1 — сервис предоставления информации о дорожном движении;</div>
<div class="t" style="left:417.00px;top:1874.55px;font-size:25px;">- UC 2.2 — сервис мониторинга состояния ТСММ;</div>
<div class="t" style="left:417.00px;top:1904.58px;font-size:25px;">- UC 2.3 — сервис оплаты за проезд по платным участкам;</div>
<div class="t" style="left:417.00px;top:1934.61px;font-size:25px;">- UC 2.4 — сервис адаптивного управления маршрутами;</div>
<div class="t" style="left:417.00px;top:1964.64px;font-size:25px;">- UC 2.5 — сервис поиска доступных парковочных мест в пути;</div>
<div class="t" style="left:417.00px;top:1994.67px;font-size:25px;">- UC 2.6 — сервис доступа без ключа к ТС для совместного пользования сервисом ММ</div>
<div class="t" style="left:1300.00px;top:2114.84px;font-size:25px;width:157.00px;text-align:right;">5</div>
</div></body></html>
